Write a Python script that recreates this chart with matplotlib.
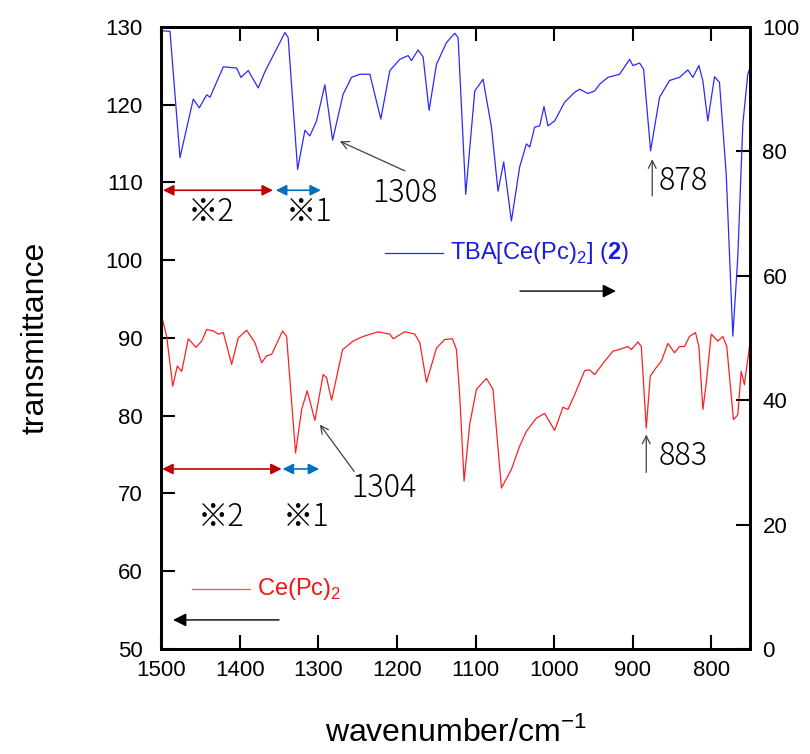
import numpy as np
import matplotlib.pyplot as plt

plt.rcParams['font.family'] = ['Liberation Sans', 'DejaVu Sans']
plt.rcParams['mathtext.fontset'] = 'custom'
plt.rcParams['mathtext.rm'] = 'Liberation Sans'
plt.rcParams['mathtext.bf'] = 'Liberation Sans:bold'

# Data: TBA[Ce(Pc)2] (right axis)
blue_wn = [1500, 1488.6, 1475.9, 1459, 1451.3, 1441.9, 1437.7, 1420.8, 1403.8, 1398.4,
           1389.1, 1376.4, 1367.9, 1361.5, 1342.4, 1338.3, 1326.3, 1317, 1310.7, 1302.2,
           1291.6, 1281.8, 1268.4, 1257.7, 1247.2, 1234.4, 1220.5, 1209, 1196.3, 1185.8,
           1181.5, 1173.1, 1166.7, 1159.1, 1149.7, 1137, 1126.4, 1122.2, 1112.5, 1101,
           1090.5, 1079.8, 1071.4, 1064.2, 1054.4, 1043.9, 1035.3, 1031.1, 1024.8, 1018.4,
           1013, 1007.9, 999.4, 986.7, 974, 967.6, 957.1, 948.6, 942.2, 931.7,
           916.8, 904.1, 899.9, 891.4, 886.3, 877.4, 866, 853.3, 840.6, 830,
           823.7, 816, 811, 804.6, 796.1, 789.8, 781.2, 772.8, 766.5, 760.1,
           753.8, 751]
blue_t = [99.4, 99.3, 79.0, 88.4, 87.0, 89.1, 88.7, 93.6, 93.4, 91.9,
          93.0, 90.2, 92.8, 94.4, 99.1, 98.3, 77.1, 83.4, 82.5, 84.9,
          90.7, 81.8, 89.2, 91.9, 92.4, 92.4, 85.2, 93.0, 94.8, 95.4,
          94.6, 96.3, 95.2, 86.6, 94.0, 97.5, 99.0, 98.3, 73.1, 89.7,
          91.6, 83.9, 73.6, 78.3, 68.8, 77.5, 81.2, 80.7, 83.9, 84.1,
          87.2, 84.1, 84.9, 87.9, 89.5, 90.0, 89.3, 89.7, 90.8, 91.9,
          92.4, 94.8, 93.8, 94.2, 93.2, 80.1, 88.7, 91.4, 91.9, 93.1,
          91.9, 93.8, 91.4, 84.9, 92.0, 91.1, 76.3, 50.3, 63.0, 84.4,
          92.4, 93.5]

# Data: Ce(Pc)2 (left axis)
red_wn = [1499.1, 1492.8, 1485.1, 1479.3, 1473.7, 1465.3, 1455.5, 1448.3, 1441.9, 1433.5,
          1427.2, 1420.8, 1410.2, 1401.8, 1391.1, 1380.6, 1372.1, 1365.7, 1359.3, 1345.4,
          1340.3, 1334.8, 1328.9, 1321.2, 1314.1, 1304.3, 1293.8, 1289.5, 1283.1, 1269.1,
          1255.7, 1242.9, 1223.9, 1209.0, 1204.8, 1190.0, 1177.3, 1170.9, 1162.4, 1149.7,
          1139.2, 1129.4, 1124.3, 1120.1, 1114.6, 1107.4, 1098.9, 1086.2, 1077.8, 1067.1,
          1054.4, 1043.9, 1035.3, 1022.6, 1012.1, 999.4, 988.8, 982.5, 974.0, 961.3,
          954.9, 948.6, 935.9, 925.3, 914.6, 906.2, 901.9, 893.5, 889.2, 882.9,
          877.8, 870.2, 863.8, 855.4, 846.9, 840.6, 834.2, 827.9, 820.3, 816.0,
          810.9, 806.6, 800.3, 791.9, 785.5, 780.5, 772.0, 766.5, 762.2, 758.1,
          751.6]
red_t = [92.8, 90.2, 83.8, 86.4, 85.7, 89.9, 88.8, 89.6, 91.1, 90.9,
         90.5, 90.7, 86.6, 90.0, 91.0, 89.4, 86.8, 87.7, 87.9, 90.9,
         90.2, 82.9, 75.2, 80.8, 83.2, 79.4, 85.3, 84.9, 82.0, 88.5,
         89.6, 90.2, 90.8, 90.5, 89.9, 90.8, 90.5, 89.4, 84.3, 88.7,
         89.8, 89.9, 88.5, 82.5, 71.6, 78.9, 83.4, 84.8, 83.4, 70.7,
         73.1, 76.1, 78.0, 79.7, 80.3, 78.1, 81.1, 80.8, 82.7, 85.8,
         85.9, 85.3, 87.0, 88.3, 88.6, 88.9, 88.5, 89.5, 88.9, 78.4,
         85.1, 86.2, 87.0, 89.3, 88.1, 88.9, 88.9, 90.2, 90.7, 88.9,
         80.8, 84.2, 90.5, 89.6, 90.2, 88.9, 79.5, 80.1, 85.7, 84.0,
         88.9]

xticks = [1500, 1400, 1300, 1200, 1100, 1000, 900, 800]
left_ticks = [50, 60, 70, 80, 90, 100, 110, 120, 130]
right_ticks = [0, 20, 40, 60, 80, 100]

fig = plt.figure(figsize=(8.1, 7.54), dpi=100)
ax = fig.add_axes([0.1988, 0.1393, 0.7271, 0.8249])
ax2 = ax.twinx()

ax.plot(red_wn, red_t, color='#ff2020', lw=0.9)
ax2.plot(blue_wn, blue_t, color='#2a2aff', lw=0.9)

ax.set_xlim(1500, 751)
ax.set_ylim(50, 130)
ax2.set_ylim(0, 100)
ax.set_xticks(xticks)
ax.set_yticks(left_ticks)
ax2.set_yticks(right_ticks)

ax.tick_params(axis='x', direction='in', length=10, width=1.5, top=True,
               labelsize=16, pad=8)
ax.tick_params(axis='y', direction='in', length=10, width=1.5, labelsize=16, pad=13)
ax2.tick_params(axis='y', direction='in', length=10, width=1.5, labelsize=16, pad=9)
for a in (ax, ax2):
    for s in a.spines.values():
        s.set_linewidth(2)

ax.set_xlabel('wavenumber/cm$^{-1}$', fontsize=23, labelpad=25)
ax.set_ylabel('transmittance', fontsize=23, labelpad=40)

# range arrows
arr_red = dict(arrowstyle='<|-|>', color='#c00000', lw=1.2, mutation_scale=16,
               shrinkA=0, shrinkB=0)
arr_blue = dict(arrowstyle='<|-|>', color='#0070c0', lw=1.2, mutation_scale=16,
                shrinkA=0, shrinkB=0)
ax.annotate('', xy=(1497.5, 109.0), xytext=(1357.7, 109.0), arrowprops=arr_red)
ax.annotate('', xy=(1353.9, 109.0), xytext=(1296.7, 109.0), arrowprops=arr_blue)
ax.annotate('', xy=(1498.5, 73.15), xytext=(1346.6, 73.15), arrowprops=arr_red)
ax.annotate('', xy=(1345.4, 73.15), xytext=(1298.9, 73.15), arrowprops=arr_blue)

jp = ['Noto Sans CJK JP', 'DejaVu Sans']
fs = 22
ax.text(1436.5, 106.2, '※2', fontsize=fs, family=jp, weight='light', ha='center', va='center')
ax.text(1312, 106.2, '※1', fontsize=fs, family=jp, weight='light', ha='center', va='center')
ax.text(1423, 67.0, '※2', fontsize=fs, family=jp, weight='light', ha='center', va='center')
ax.text(1315, 67.0, '※1', fontsize=fs, family=jp, weight='light', ha='center', va='center')

thin = dict(arrowstyle='->', color='#404040', lw=0.9, shrinkA=0, shrinkB=0,
            mutation_scale=14)
ax.annotate('', xy=(1272.6, 115.3), xytext=(1190, 111.5), arrowprops=thin)
ax.text(1190, 108.7, '1308', fontsize=fs, family=jp, weight='light', ha='center', va='center')
ax.annotate('', xy=(1298, 78.86), xytext=(1254.4, 72.84), arrowprops=thin)
ax.text(1216, 70.7, '1304', fontsize=fs, family=jp, weight='light', ha='center', va='center')
ax.annotate('', xy=(875.3, 113.0), xytext=(875.3, 108.27), arrowprops=thin)
ax.text(867, 110.2, '878', fontsize=fs, family=jp, weight='light', ha='left', va='center')
ax.annotate('', xy=(882.9, 77.57), xytext=(882.9, 72.71), arrowprops=thin)
ax.text(867, 74.77, '883', fontsize=fs, family=jp, weight='light', ha='left', va='center')

# legend-like labels
ax.plot([0.380, 0.479], [0.637, 0.637], color='#2a2aff', lw=0.9, transform=ax.transAxes)
ax.text(0.491, 0.637, r'TBA[Ce(Pc)$_2$] ($\mathbf{2}$)', color='#1a1ae6', fontsize=17,
        transform=ax.transAxes, va='center')
ax.annotate('', xy=(0.7725, 0.5754), xytext=(0.6095, 0.5754), xycoords='axes fraction',
            arrowprops=dict(arrowstyle='-|>', color='black', lw=1, mutation_scale=20,
                            shrinkA=0, shrinkB=0))

ax.plot([0.0526, 0.151], [0.0966, 0.0966], color='#ff5050', lw=0.9, transform=ax.transAxes)
ax.text(0.1625, 0.0966, r'Ce(Pc)$_2$', color='#ff1010', fontsize=17,
        transform=ax.transAxes, va='center')
ax.annotate('', xy=(0.0204, 0.0467), xytext=(0.2003, 0.0467), xycoords='axes fraction',
            arrowprops=dict(arrowstyle='-|>', color='black', lw=1, mutation_scale=20,
                            shrinkA=0, shrinkB=0))

fig.savefig('out.png', dpi=100)
